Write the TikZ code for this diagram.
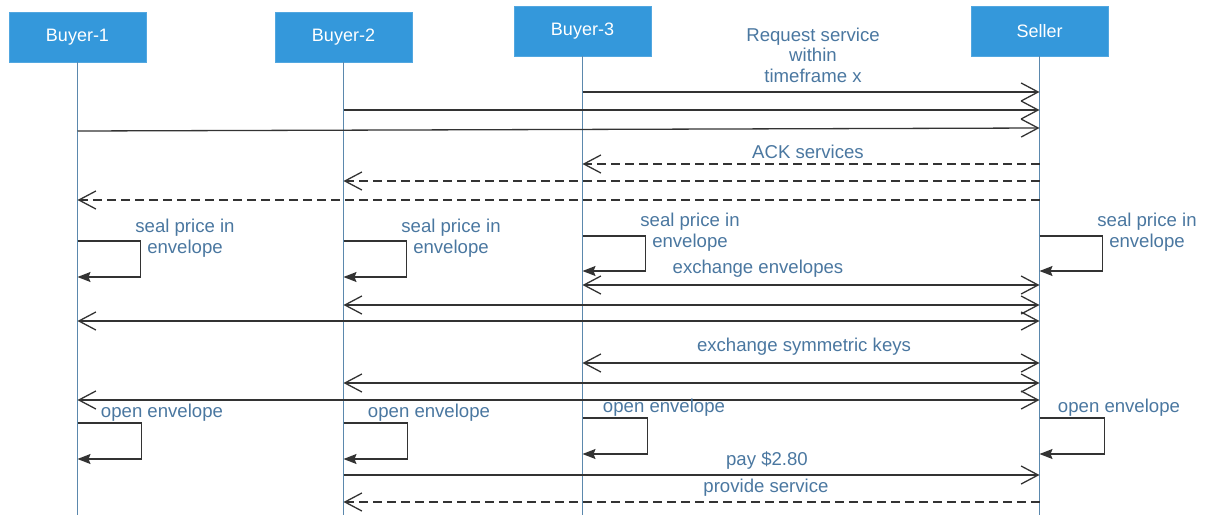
\documentclass[tikz,border=0pt]{standalone}
\usepackage{fontspec}
\setmainfont{Liberation Sans}
\usetikzlibrary{arrows.meta}
\definecolor{boxblue}{HTML}{3498DB}
\definecolor{lifeblue}{HTML}{5B88AD}
\definecolor{lbltext}{HTML}{4A77A0}
\definecolor{msgline}{HTML}{333333}
\tikzset{
  actor/.style={rectangle, fill=boxblue, draw=boxblue!85!white, line width=0.8pt,
    minimum width=137pt, minimum height=50pt, inner sep=0pt, text=white,
    font=\fontsize{18}{20}\selectfont},
  lifeline/.style={draw=lifeblue, line width=1.4pt},
  msg/.style={draw=msgline, line width=1.3pt},
  call/.style={msg, -{Straight Barb[length=17pt,width=18pt,line width=1.3pt]}},
  both/.style={msg, {Straight Barb[length=17pt,width=18pt,line width=1.3pt]}-{Straight Barb[length=17pt,width=18pt,line width=1.3pt]}},
  reply/.style={call, dash pattern=on 9pt off 5pt},
  selfcall/.style={msg, -{Stealth[length=13pt,width=10pt,inset=2pt]}},
  lbl/.style={text=lbltext, align=center, inner sep=0pt,
    font=\fontsize{18.6}{20.5}\selectfont},
}
\begin{document}
\begin{tikzpicture}[x=1pt,y=-1pt]
\useasboundingbox (0,0) rectangle (1205,515);

% participants
\node[actor] (b1) at (77.5,37) {Buyer-1};
\node[actor] (b2) at (343.5,37) {Buyer-2};
\node[actor] (b3) at (582.5,31) {Buyer-3};
\node[actor] (s)  at (1039.5,31) {Seller};

% lifelines
\draw[lifeline] (b1.south) -- (b1.south |- 0,515);
\draw[lifeline] (b2.south) -- (b2.south |- 0,515);
\draw[lifeline] (b3.south) -- (b3.south |- 0,515);
\draw[lifeline] (s.south)  -- (s.south |- 0,515);

% service requests
\node[lbl] (req) at (813,55) {Request service\\within\\timeframe x};
\draw[call] (b3.south |- 0,92)  -- (s.south |- 0,92);
\draw[call] (b2.south |- 0,110) -- (s.south |- 0,110);
\draw[call] (b1.south |- 0,131) -- (s.south |- 0,128);

% acknowledgements
\node[lbl] (ack) at (808,152) {ACK services};
\draw[reply] (s.south |- 0,164) -- (b3.south |- 0,164);
\draw[reply] (s.south |- 0,181) -- (b2.south |- 0,181);
\draw[reply] (s.south |- 0,200) -- (b1.south |- 0,200);

% sealing prices
\node[lbl] (seal1) at (185,238) {seal price in\\envelope};
\draw[selfcall] (b1.south |- 0,241) -- ++(63,0) -- ++(0,36) -- (b1.south |- 0,277);
\node[lbl] (seal2) at (451,238) {seal price in\\envelope};
\draw[selfcall] (b2.south |- 0,241) -- ++(63,0) -- ++(0,36) -- (b2.south |- 0,277);
\node[lbl] (seal3) at (690,232) {seal price in\\envelope};
\draw[selfcall] (b3.south |- 0,236) -- ++(63,0) -- ++(0,35) -- (b3.south |- 0,271);
\node[lbl] (seals) at (1147,232) {seal price in\\envelope};
\draw[selfcall] (s.south |- 0,236) -- ++(63,0) -- ++(0,35) -- (s.south |- 0,271);

% envelope exchange
\node[lbl] (exenv) at (758,269) {exchange envelopes};
\draw[both] (b3.south |- 0,285) -- (s.south |- 0,285);
\draw[both] (b2.south |- 0,305) -- (s.south |- 0,305);
\draw[both] (b1.south |- 0,321) -- (s.south |- 0,321);

% key exchange
\node[lbl] (exkey) at (804,347) {exchange symmetric keys};
\draw[both] (b3.south |- 0,363) -- (s.south |- 0,363);
\draw[both] (b2.south |- 0,383) -- (s.south |- 0,383);
\draw[both] (b1.south |- 0,400) -- (s.south |- 0,400);

% opening envelopes
\node[lbl] (open1) at (162,413) {open envelope};
\draw[selfcall] (b1.south |- 0,423) -- ++(64,0) -- ++(0,36) -- (b1.south |- 0,459);
\node[lbl] (open2) at (429,413) {open envelope};
\draw[selfcall] (b2.south |- 0,423) -- ++(64,0) -- ++(0,36) -- (b2.south |- 0,459);
\node[lbl] (open3) at (664,408) {open envelope};
\draw[selfcall] (b3.south |- 0,418) -- ++(65,0) -- ++(0,36) -- (b3.south |- 0,454);
\node[lbl] (opens) at (1119,408) {open envelope};
\draw[selfcall] (s.south |- 0,418) -- ++(65,0) -- ++(0,36) -- (s.south |- 0,454);

% payment and service
\node[lbl] (pay) at (767,461) {pay \$2.80};
\draw[call] (b2.south |- 0,475) -- (s.south |- 0,475);
\node[lbl] (prov) at (766,488) {provide service};
\draw[reply] (s.south |- 0,502) -- (b2.south |- 0,502);
\end{tikzpicture}
\end{document}
